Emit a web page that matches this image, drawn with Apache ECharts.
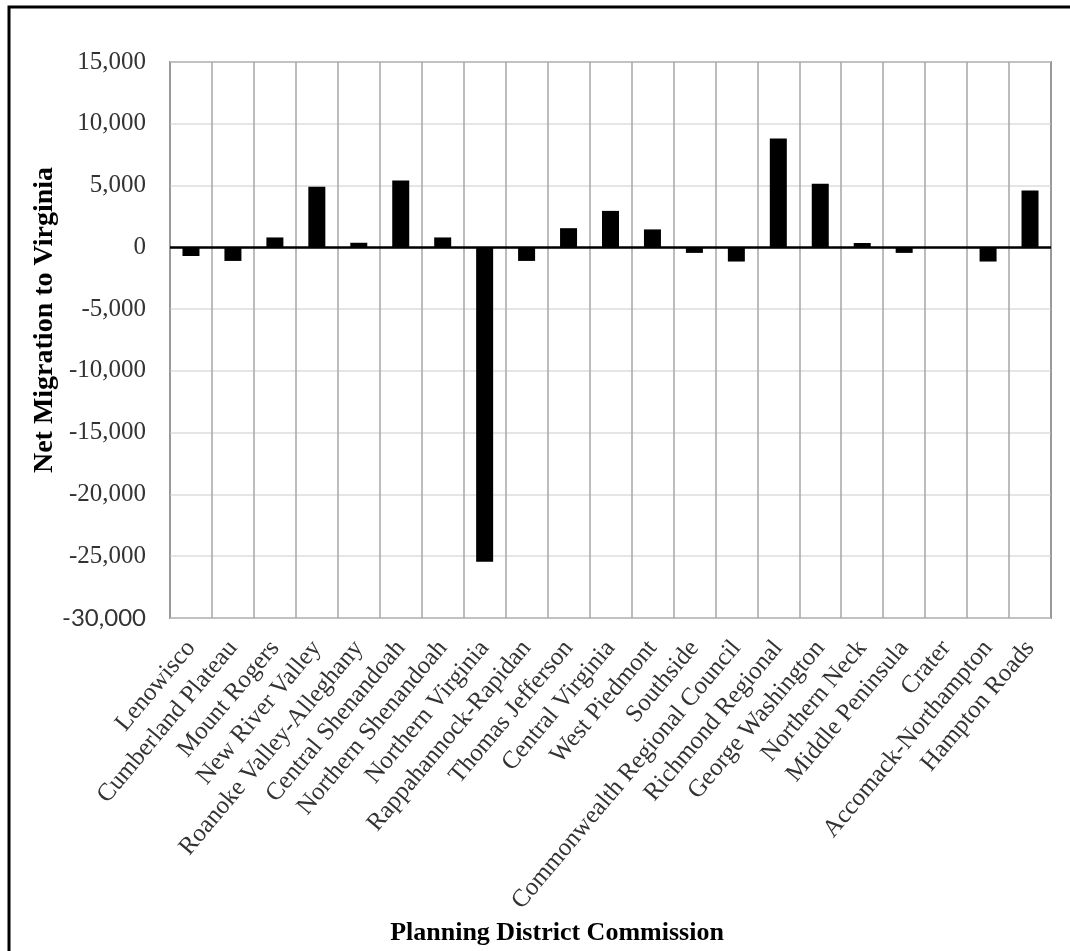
<!DOCTYPE html>
<html>
<head>
<meta charset="utf-8">
<script src="https://cdn.jsdelivr.net/npm/echarts@6/dist/echarts.min.js"></script>
<style>
html,body{margin:0;padding:0;background:#fff;}
#chart{width:1070px;height:951px;}
</style>
</head>
<body>
<div id="chart"></div>
<script>
const categories = [
  'Lenowisco','Cumberland Plateau','Mount Rogers','New River Valley','Roanoke Valley-Alleghany',
  'Central Shenandoah','Northern Shenandoah','Northern Virginia','Rappahannock-Rapidan','Thomas Jefferson',
  'Central Virginia','West Piedmont','Southside','Commonwealth Regional Council','Richmond Regional',
  'George Washington','Northern Neck','Middle Peninsula','Crater','Accomack-Northampton','Hampton Roads'
];
const netMigration = [
  -700, -1100, 800, 4900, 370,
  5400, 800, -25450, -1100, 1550,
  2950, 1450, -450, -1150, 8800,
  5150, 350, -450, 0, -1150, 4600
];
const yTicks = { min: -30000, max: 15000, interval: 5000 };
const yTitle = 'Net Migration to Virginia';
const xTitle = 'Planning District Commission';

const serif = "'Liberation Serif', 'Times New Roman', serif";
const chart = echarts.init(document.getElementById('chart'));
chart.setOption({
  animation: false,
  backgroundColor: '#fff',
  grid: { left: 170, top: 62, right: 19, bottom: 333, show: true, borderColor: '#4a4a4a', borderWidth: 1.5, backgroundColor: 'transparent' },
  xAxis: {
    type: 'category',
    data: categories,
    boundaryGap: true,
    axisLine: { show: false, onZero: false },
    axisTick: { show: false },
    splitLine: { show: true, lineStyle: { color: '#a6a6a6', width: 1.5 } },
    axisLabel: { interval: 0, rotate: 50, margin: 26, color: '#333', fontFamily: serif, fontSize: 25 }
  },
  yAxis: {
    type: 'value',
    min: yTicks.min, max: yTicks.max, interval: yTicks.interval,
    axisLine: { show: false },
    axisTick: { show: false },
    splitLine: { show: true, lineStyle: { color: '#dcdcdc', width: 1.5 } },
    axisLabel: {
      margin: 24, color: '#333', fontFamily: serif, fontSize: 25,
      formatter: function (v) {
        const s = v.toLocaleString('en-US');
        return v === yTicks.min ? '{s|' + s + '}' : s;
      },
      rich: { s: { fontFamily: "Lato, 'Open Sans', sans-serif", fontSize: 24, color: '#333' } }
    }
  },
  series: [{
    type: 'bar',
    data: netMigration,
    barWidth: 17,
    itemStyle: { color: '#000' },
    markLine: {
      silent: true, symbol: 'none', label: { show: false },
      lineStyle: { color: '#000', width: 2.5, type: 'solid' },
      data: [{ yAxis: 0 }]
    }
  }],
  graphic: [
    { type: 'rect', shape: { x: 9, y: 7, width: 1100, height: 1000 }, style: { fill: 'none', stroke: '#000', lineWidth: 3 }, silent: true },
    { type: 'text', x: 45, y: 320, rotation: Math.PI / 2, style: { text: yTitle, font: "bold 28px " + serif, fill: '#000', textAlign: 'center', textVerticalAlign: 'middle' } },
    { type: 'text', x: 557, y: 933, style: { text: xTitle, font: "bold 26px " + serif, fill: '#000', textAlign: 'center', textVerticalAlign: 'middle' } }
  ]
});
</script>
</body>
</html>
